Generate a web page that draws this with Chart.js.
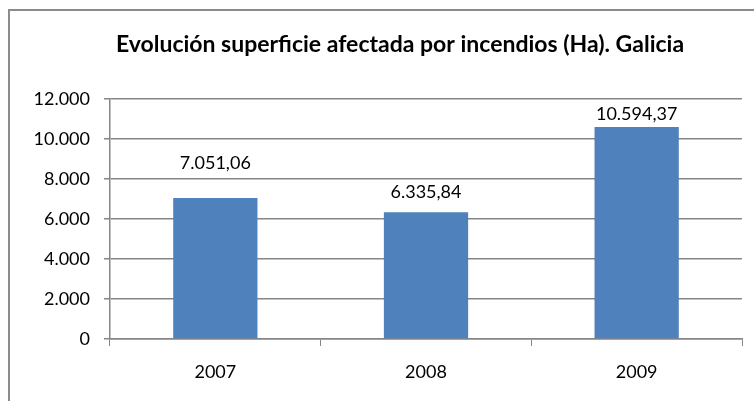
<!DOCTYPE html>
<html>
<head>
<meta charset="utf-8">
<script src="https://cdn.jsdelivr.net/npm/chart.js@4"></script>
<style>
    body { margin: 0; background: #fff; }
    #wrap { position: relative; width: 754px; height: 401px; overflow: hidden; }
    #frame { position: absolute; left: 8px; top: 9px; width: 900px; height: 600px; border: 2px solid #8c8c8c; }
    #chart { position: absolute; left: 0; top: 0; }
</style>
</head>
<body>
<div id="wrap">
    <div id="frame"></div>
    <canvas id="chart" width="754" height="401"></canvas>
</div>

<script type="text/javascript">

    const chartTitle = 'Evolución superficie afectada por incendios (Ha). Galicia';
    const years = ['2007', '2008', '2009'];
    const hectares = [7051.06, 6335.84, 10594.37];
    const yTicks = [0, 2000, 4000, 6000, 8000, 10000, 12000];

    const FONT = 'Lato, "Open Sans", sans-serif';
    const GRID = '#868686';

    function fmt(v, dec) {
        return v.toLocaleString('es-ES', {minimumFractionDigits: dec, maximumFractionDigits: dec, useGrouping: 'always'});
    }

    // titulo centrado como en el original (no en el canvas)
    const titlePlugin = {
        id: 'titlePlugin',
        afterDraw(chart, args, opts) {
            const ctx = chart.ctx;
            ctx.save();
            ctx.font = 'bold 23px ' + FONT;
            ctx.fillStyle = '#000';
            ctx.textAlign = 'center';
            ctx.textBaseline = 'middle';
            ctx.fillText(chartTitle, opts.x, opts.y);
            ctx.restore();
        }
    };

    // etiquetas de valor encima de cada barra
    const barLabels = {
        id: 'barLabels',
        afterDatasetsDraw(chart, args, opts) {
            const ctx = chart.ctx;
            const meta = chart.getDatasetMeta(0);
            ctx.save();
            ctx.font = '18px ' + FONT;
            ctx.fillStyle = '#000';
            ctx.textAlign = 'center';
            ctx.textBaseline = 'middle';
            meta.data.forEach((bar, i) => {
                ctx.fillText(fmt(hectares[i], 2), bar.x, bar.y - opts.offsets[i]);
            });
            ctx.restore();
        }
    };

    new Chart(document.getElementById('chart'), {
        type: 'bar',
        data: {
            labels: years,
            datasets: [{
                data: hectares,
                backgroundColor: '#4F81BD',
                borderWidth: 0,
                categoryPercentage: 1,
                barPercentage: 0.4
            }]
        },
        options: {
            responsive: false,
            animation: false,
            layout: { padding: { left: 0, right: 12, top: 99, bottom: 0 } },
            plugins: {
                legend: { display: false },
                tooltip: { enabled: false },
                title: { display: false },
                titlePlugin: { x: 400, y: 45 },
                barLabels: { offsets: [35, 20, 13] }
            },
            scales: {
                x: {
                    offset: true,
                    grid: { display: true, drawOnChartArea: false, offset: true, color: GRID, tickLength: 7 },
                    border: { color: GRID, width: 1.5 },
                    ticks: { color: '#000', font: { family: FONT, size: 18 }, padding: 15 },
                    afterFit(scale) { scale.height = 62; }
                },
                y: {
                    min: 0,
                    max: 12000,
                    afterBuildTicks(scale) { scale.ticks = yTicks.map(v => ({value: v})); },
                    grid: { color: GRID, lineWidth: 1.5, tickLength: 6 },
                    border: { color: GRID, width: 1.5 },
                    ticks: {
                        color: '#000',
                        font: { family: FONT, size: 18 },
                        padding: 14,
                        callback: v => fmt(v, 0)
                    },
                    afterFit(scale) { scale.width = 110; }
                }
            }
        },
        plugins: [barLabels, titlePlugin]
    });

</script>
</body>
</html>
